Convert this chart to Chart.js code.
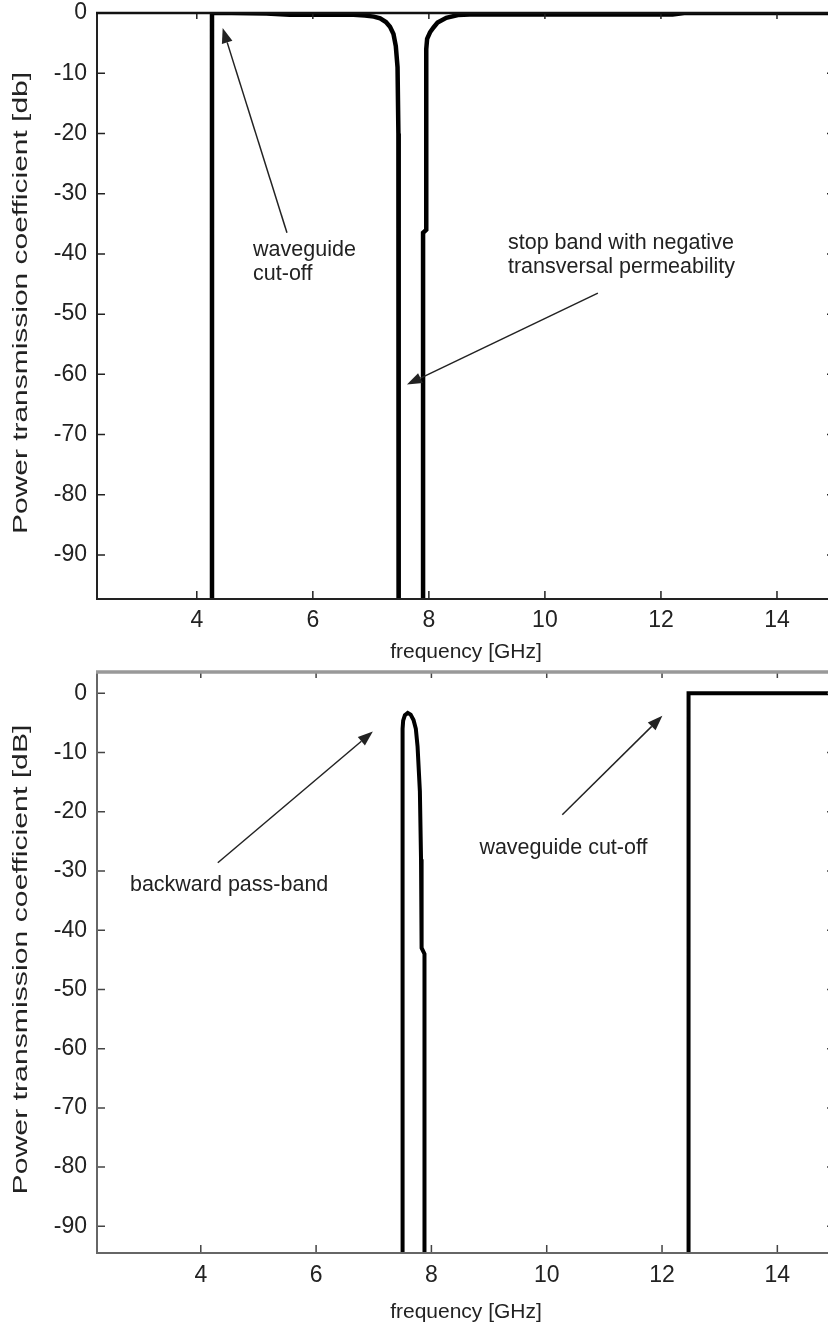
<!DOCTYPE html>
<html>
<head>
<meta charset="utf-8">
<script src="https://cdn.jsdelivr.net/npm/chart.js@4.4.1/dist/chart.umd.min.js"></script>
<style>
html, body { margin: 0; padding: 0; background: #fff; overflow: hidden; }
#arriba { position: absolute; left: 0; top: 0; width: 840px; height: 668px; }
#abajo { position: absolute; left: 0; top: 668px; width: 840px; height: 657px; }
</style>
</head>
<body>
<div id="arriba"><canvas id="graficoArriba"></canvas></div>
<div id="abajo"><canvas id="graficoAbajo"></canvas></div>
<script>
// la curva sigue por debajo del eje inferior
const fueraEscala = -150;

// panel superior: frecuencia [GHz] y transmision [dB]
const frecArriba = [2.2, 4.262, 4.262, 4.6, 5.2, 5.6, 6.3, 6.7, 6.9, 7.05, 7.16, 7.26, 7.33, 7.39, 7.43, 7.46, 7.475, 7.48, 7.48,
    7.90, 7.90, 7.955, 7.955, 7.97, 8.02, 8.08, 8.15, 8.3, 8.5, 8.8, 9.5, 12.2, 12.4, 15.2];
const dbArriba = [fueraEscala, fueraEscala, 0, 0, -0.1, -0.3, -0.3, -0.3, -0.4, -0.6, -0.9, -1.5, -2.3, -3.5, -5.5, -9, -20, -50, fueraEscala,
    fueraEscala, -36.5, -36, -6, -4.3, -3.2, -2.4, -1.6, -0.8, -0.35, -0.2, -0.25, -0.25, 0, 0];

// panel inferior
const frecAbajo = [2.1, 7.50, 7.50, 7.51, 7.54, 7.59, 7.64, 7.69, 7.73, 7.76, 7.80, 7.82, 7.83, 7.88, 7.88, 12.46, 12.46, 15.2];
const dbAbajo = [fueraEscala, fueraEscala, -6, -4.6, -3.7, -3.3, -3.6, -4.5, -6, -9, -16.5, -28, -43, -44, fueraEscala, fueraEscala, 0, 0];

const ticksFrec = [4, 6, 8, 10, 12, 14];
const ticksDb = [0, -10, -20, -30, -40, -50, -60, -70, -80, -90];

// notas (en coordenadas de datos)
const notasArriba = [
    { texto: ['waveguide', 'cut-off'], x: 4.97, y: -39.3, desde: [5.554, -36.5], hasta: [4.446, -2.5] },
    { texto: ['stop band with negative', 'transversal permeability'], x: 9.363, y: -38.2, desde: [10.913, -46.5], hasta: [7.622, -61.7] }
];
const notasAbajo = [
    { texto: ['backward pass-band'], x: 2.771, y: -32.4, desde: [4.295, -28.6], hasta: [6.984, -6.46] },
    { texto: ['waveguide cut-off'], x: 8.832, y: -26.1, desde: [10.27, -20.5], hasta: [12.006, -3.8] }
];

const fuente = '"Liberation Sans", Arial, sans-serif';
Chart.defaults.font.family = fuente;
Chart.defaults.color = '#222';

// marco, marcas hacia dentro, titulo vertical y flechas
const marcoPlugin = {
    id: 'marco',
    afterDraw(chart, args, opts) {
        const { ctx, chartArea: a } = chart;
        const sx = chart.scales.x, sy = chart.scales.y;
        ctx.save();

        ctx.strokeStyle = opts.colorMarcas;
        ctx.lineWidth = 1.5;
        ctx.beginPath();
        sx.ticks.forEach(t => {
            const px = sx.getPixelForValue(t.value);
            ctx.moveTo(px, a.bottom); ctx.lineTo(px, a.bottom - 8);
            ctx.moveTo(px, a.top); ctx.lineTo(px, a.top + 6);
        });
        sy.ticks.forEach(t => {
            const py = sy.getPixelForValue(t.value);
            ctx.moveTo(a.left, py); ctx.lineTo(a.left + 8, py);
            ctx.moveTo(a.right, py); ctx.lineTo(a.right - 8, py);
        });
        ctx.stroke();

        ctx.lineWidth = opts.anchoLados;
        ctx.strokeStyle = opts.colorLados;
        ctx.beginPath();
        ctx.moveTo(a.left, a.top); ctx.lineTo(a.left, a.bottom); ctx.lineTo(a.right, a.bottom); ctx.lineTo(a.right, a.top);
        ctx.stroke();
        ctx.lineWidth = opts.anchoArriba;
        ctx.strokeStyle = opts.colorArriba;
        ctx.beginPath();
        ctx.moveTo(a.left - 1, a.top); ctx.lineTo(a.right, a.top);
        ctx.stroke();

        // titulo del eje y, alargado como en la figura original
        ctx.fillStyle = '#222';
        ctx.font = '21px ' + fuente;
        ctx.textAlign = 'center';
        ctx.textBaseline = 'middle';
        const anchoTexto = ctx.measureText(opts.tituloY).width;
        ctx.save();
        ctx.translate(21, (a.top + a.bottom) / 2 - 3);
        ctx.rotate(-Math.PI / 2);
        ctx.scale(opts.largoTituloY / anchoTexto, 1);
        ctx.fillText(opts.tituloY, 0, 0);
        ctx.restore();

        ctx.strokeStyle = '#222';
        ctx.font = '21.5px ' + fuente;
        ctx.textAlign = 'left';
        (opts.notas || []).forEach(n => {
            const tx = sx.getPixelForValue(n.x), ty = sy.getPixelForValue(n.y);
            n.texto.forEach((linea, i) => ctx.fillText(linea, tx, ty + i * 24));

            const x0 = sx.getPixelForValue(n.desde[0]), y0 = sy.getPixelForValue(n.desde[1]);
            const x1 = sx.getPixelForValue(n.hasta[0]), y1 = sy.getPixelForValue(n.hasta[1]);
            const ang = Math.atan2(y1 - y0, x1 - x0);
            const largo = 15, medio = 5.5;
            const bx = x1 - largo * Math.cos(ang), by = y1 - largo * Math.sin(ang);
            ctx.lineWidth = 1.5;
            ctx.beginPath();
            ctx.moveTo(x0, y0); ctx.lineTo(bx, by);
            ctx.stroke();
            ctx.beginPath();
            ctx.moveTo(x1, y1);
            ctx.lineTo(bx + medio * Math.sin(ang), by - medio * Math.cos(ang));
            ctx.lineTo(bx - medio * Math.sin(ang), by + medio * Math.cos(ang));
            ctx.closePath();
            ctx.fill();
        });
        ctx.restore();
    }
};

function crearGrafico(idCanvas, frec, db, cfg) {
    const puntos = frec.map((f, i) => ({ x: f, y: db[i] }));
    return new Chart(document.getElementById(idCanvas), {
        type: 'scatter',
        data: {
            datasets: [{
                data: puntos,
                showLine: true,
                borderColor: '#000',
                borderWidth: cfg.grosor,
                pointRadius: 0,
                tension: 0,
                fill: false
            }]
        },
        plugins: [marcoPlugin],
        options: {
            responsive: true,
            maintainAspectRatio: false,
            animation: false,
            devicePixelRatio: 1,
            layout: { padding: { top: cfg.arriba, right: 5, left: 0, bottom: 0 } },
            plugins: {
                legend: { display: false },
                tooltip: { enabled: false },
                marco: cfg.marco
            },
            scales: {
                x: {
                    type: 'linear',
                    min: cfg.xMin,
                    max: 15,
                    grid: { display: false, drawTicks: false },
                    border: { display: false },
                    afterBuildTicks: s => { s.ticks = ticksFrec.map(v => ({ value: v })); },
                    afterFit: s => { s.height = cfg.altoX; s.paddingLeft = 0; s.paddingRight = 0; },
                    ticks: { font: { size: 23 }, padding: cfg.padX, maxRotation: 0, autoSkip: false },
                    title: { display: true, text: 'frequency [GHz]', font: { size: 21 }, padding: { top: 0, bottom: cfg.padTituloX } }
                },
                y: {
                    type: 'linear',
                    min: cfg.yMin,
                    max: cfg.yMax,
                    grid: { display: false, drawTicks: false },
                    border: { display: false },
                    afterBuildTicks: s => { s.ticks = ticksDb.map(v => ({ value: v })); },
                    afterFit: s => { s.width = 97; s.paddingTop = 0; s.paddingBottom = 0; },
                    ticks: { font: { size: 23 }, padding: 10 },
                    title: { display: false }
                }
            }
        }
    });
}

crearGrafico('graficoArriba', frecArriba, dbArriba, {
    grosor: 4.5, arriba: 13, altoX: 69, padX: 8, padTituloX: 3,
    xMin: 2.28, yMin: -97.3, yMax: 0,
    marco: {
        colorMarcas: '#222', colorLados: '#222', anchoLados: 2, colorArriba: '#111', anchoArriba: 2.5,
        tituloY: 'Power transmission coefficient [db]', largoTituloY: 462, notas: notasArriba
    }
});

crearGrafico('graficoAbajo', frecAbajo, dbAbajo, {
    grosor: 4, arriba: 4, altoX: 72, padX: 9, padTituloX: 0,
    xMin: 2.2, yMin: -94.5, yMax: 3.6,
    marco: {
        colorMarcas: '#444', colorLados: '#666', anchoLados: 2, colorArriba: '#999', anchoArriba: 3.5,
        tituloY: 'Power transmission coefficient [dB]', largoTituloY: 470, notas: notasAbajo
    }
});
</script>
</body>
</html>
